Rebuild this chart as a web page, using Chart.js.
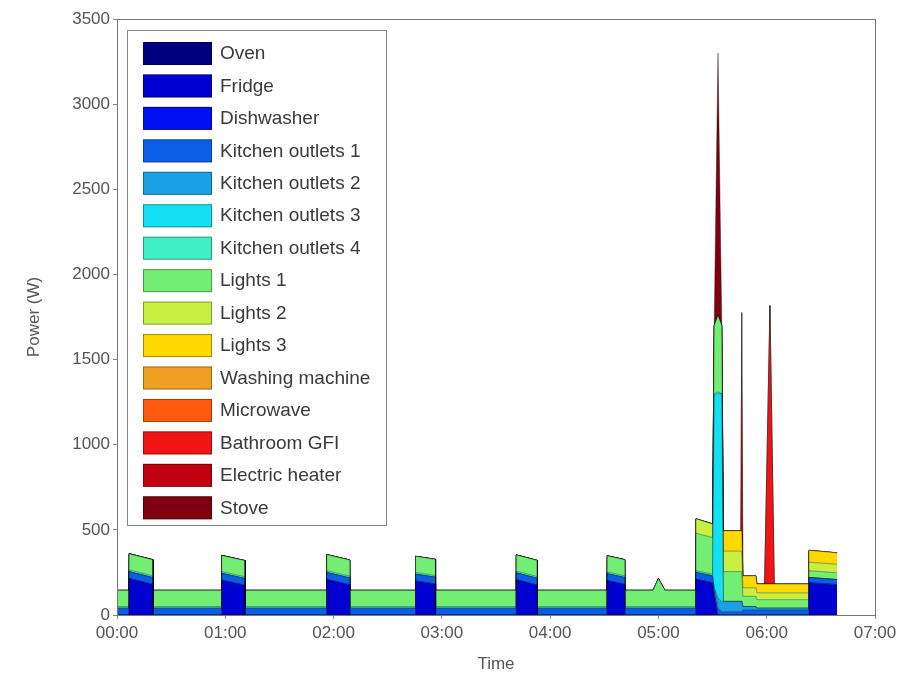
<!DOCTYPE html>
<html>
<head>
<meta charset="utf-8">
<title>Power (W)</title>
<script src="https://cdn.jsdelivr.net/npm/chart.js@4/dist/chart.umd.min.js"></script>
<style>
    body { margin: 0; background: #fff; }
    #wrap { width: 917px; height: 673px; }
</style>
</head>
<body>
<div id="wrap"><canvas id="powerChart" width="917" height="673"></canvas></div>
<script>
// time in hours since 00:00
const times = [0, 0.11, 0.112, 0.33, 0.332, 0.965, 0.967, 1.18, 1.182, 1.935, 1.937, 2.15, 2.152,
    2.755, 2.757, 2.94, 2.942, 3.685, 3.687, 3.88, 3.882, 4.525, 4.527, 4.69, 4.692,
    4.95, 5.0, 5.06, 5.345, 5.347, 5.5, 5.515, 5.55, 5.585, 5.6, 5.76, 5.77, 5.78, 5.9,
    5.91, 5.98, 6.03, 6.07, 6.385, 6.39, 6.65];

const labels = ['Oven', 'Fridge', 'Dishwasher', 'Kitchen outlets 1', 'Kitchen outlets 2',
    'Kitchen outlets 3', 'Kitchen outlets 4', 'Lights 1', 'Lights 2', 'Lights 3',
    'Washing machine', 'Microwave', 'Bathroom GFI', 'Electric heater', 'Stove'];

const colors = ['#00007f', '#0000d0', '#0010f4', '#0a5ee8', '#1aa0e4', '#14e0f4', '#40f0c4',
    '#72ee72', '#c8f040', '#ffd800', '#f0a020', '#ff5a10', '#f01414', '#c00010', '#800010'];

// power per appliance (W), one value per time point
const oven = [0, 0, 0, 0, 0, 0, 0, 0, 0, 0, 0, 0, 0, 0, 0, 0, 0, 0, 0, 0, 0, 0, 0, 0, 0,
    0, 0, 0, 0, 0, 0, 0, 0, 0, 0, 0, 0, 0, 0, 0, 0, 0, 0, 0, 0, 0];
const fridge = [0, 0, 215, 180, 0, 0, 205, 175, 0, 0, 210, 178, 0, 0, 200, 182, 0, 0, 208, 176, 0, 0, 203, 180, 0,
    0, 0, 0, 0, 210, 190, 120, 0, 0, 0, 0, 0, 0, 0, 0, 0, 0, 0, 0, 190, 178];
const dishwasher = [0, 0, 0, 0, 0, 0, 0, 0, 0, 0, 0, 0, 0, 0, 0, 0, 0, 0, 0, 0, 0, 0, 0, 0, 0,
    0, 0, 0, 0, 0, 0, 0, 0, 0, 0, 0, 0, 0, 0, 0, 0, 0, 0, 0, 0, 0];
const kitchen1 = [40, 40, 40, 40, 40, 40, 40, 40, 40, 40, 40, 40, 40, 40, 40, 40, 40, 40, 40, 40, 40, 40, 40, 40, 40,
    40, 40, 40, 40, 40, 40, 40, 40, 20, 20, 20, 20, 30, 30, 30, 30, 30, 30, 30, 30, 30];
const kitchen2 = [0, 0, 0, 0, 0, 0, 0, 0, 0, 0, 0, 0, 0, 0, 0, 0, 0, 0, 0, 0, 0, 0, 0, 0, 0,
    0, 0, 0, 0, 0, 0, 0, 60, 60, 60, 60, 60, 20, 20, 10, 10, 10, 10, 10, 0, 0];
const kitchen3 = [0, 0, 0, 0, 0, 0, 0, 0, 0, 0, 0, 0, 0, 0, 0, 0, 0, 0, 0, 0, 0, 0, 0, 0, 0,
    0, 0, 0, 0, 0, 0, 1130, 1200, 1220, 0, 0, 0, 0, 0, 0, 0, 0, 0, 0, 0, 0];
const kitchen4 = [10, 10, 10, 10, 10, 10, 10, 10, 10, 10, 10, 10, 10, 10, 10, 10, 10, 10, 10, 10, 10, 10, 10, 10, 10,
    10, 10, 10, 10, 10, 10, 10, 10, 0, 0, 0, 0, 0, 0, 0, 0, 0, 0, 0, 0, 0];
const lights1 = [95, 95, 95, 95, 95, 95, 95, 95, 95, 95, 95, 95, 95, 95, 95, 95, 95, 95, 95, 95, 95, 95, 95, 95, 95,
    95, 165, 95, 95, 220, 215, 400, 450, 400, 175, 175, 175, 60, 60, 50, 50, 50, 50, 50, 40, 40];
const lights2 = [0, 0, 0, 0, 0, 0, 0, 0, 0, 0, 0, 0, 0, 0, 0, 0, 0, 0, 0, 0, 0, 0, 0, 0, 0,
    0, 0, 0, 0, 85, 80, 0, 0, 0, 120, 120, 120, 50, 50, 40, 40, 40, 40, 40, 50, 50];
const lights3 = [0, 0, 0, 0, 0, 0, 0, 0, 0, 0, 0, 0, 0, 0, 0, 0, 0, 0, 0, 0, 0, 0, 0, 0, 0,
    0, 0, 0, 0, 0, 0, 0, 0, 0, 120, 120, 120, 70, 70, 52, 52, 52, 52, 52, 70, 67];
const washing = [0, 0, 0, 0, 0, 0, 0, 0, 0, 0, 0, 0, 0, 0, 0, 0, 0, 0, 0, 0, 0, 0, 0, 0, 0,
    0, 0, 0, 0, 0, 0, 0, 0, 0, 0, 0, 0, 0, 0, 0, 0, 0, 0, 0, 0, 0];
const microwave = [0, 0, 0, 0, 0, 0, 0, 0, 0, 0, 0, 0, 0, 0, 0, 0, 0, 0, 0, 0, 0, 0, 0, 0, 0,
    0, 0, 0, 0, 0, 0, 0, 0, 0, 0, 0, 0, 0, 0, 0, 0, 0, 0, 0, 0, 0];
const bathroom = [0, 0, 0, 0, 0, 0, 0, 0, 0, 0, 0, 0, 0, 0, 0, 0, 0, 0, 0, 0, 0, 0, 0, 0, 0,
    0, 0, 0, 0, 0, 0, 0, 0, 0, 0, 0, 0, 0, 0, 0, 0, 1636, 0, 0, 0, 0];
const heater = [0, 0, 0, 0, 0, 0, 0, 0, 0, 0, 0, 0, 0, 0, 0, 0, 0, 0, 0, 0, 0, 0, 0, 0, 0,
    0, 0, 0, 0, 0, 0, 0, 0, 0, 0, 0, 1281, 0, 0, 0, 0, 0, 0, 0, 0, 0];
const stove = [0, 0, 0, 0, 0, 0, 0, 0, 0, 0, 0, 0, 0, 0, 0, 0, 0, 0, 0, 0, 0, 0, 0, 0, 0,
    0, 0, 0, 0, 0, 0, 0, 1540, 0, 0, 0, 0, 0, 0, 0, 0, 0, 0, 0, 0, 0];

const series = [oven, fridge, dishwasher, kitchen1, kitchen2, kitchen3, kitchen4,
    lights1, lights2, lights3, washing, microwave, bathroom, heater, stove];

const hourTicks = [0, 1, 2, 3, 4, 5, 6, 7];
const powerTicks = [0, 500, 1000, 1500, 2000, 2500, 3000, 3500];

const FONT = '"Liberation Sans", Arial, sans-serif';

// frame around the plot area, like MATLAB's box on
const framePlugin = {
    id: 'frame',
    afterDatasetsDraw(chart) {
        const { ctx, chartArea: a } = chart;
        ctx.save();
        ctx.strokeStyle = '#777';
        ctx.lineWidth = 1;
        ctx.strokeRect(a.left + 0.5, a.top + 0.5, a.right - a.left, a.bottom - a.top);
        ctx.restore();
    }
};

// legend box drawn inside the axes (top left)
const legendPlugin = {
    id: 'insideLegend',
    afterDraw(chart) {
        const ctx = chart.ctx;
        const box = { x: 127, y: 30, w: 259, h: 495 };
        ctx.save();
        ctx.fillStyle = '#fff';
        ctx.fillRect(box.x, box.y, box.w, box.h);
        ctx.strokeStyle = '#888';
        ctx.lineWidth = 1;
        ctx.strokeRect(box.x + 0.5, box.y + 0.5, box.w, box.h);
        ctx.font = '19px ' + FONT;
        ctx.textBaseline = 'middle';
        chart.data.datasets.forEach((ds, i) => {
            const y = 42 + i * 32.45;
            ctx.fillStyle = ds.backgroundColor;
            ctx.fillRect(143, y, 69, 23);
            ctx.strokeStyle = 'rgba(0,0,0,0.35)';
            ctx.strokeRect(143.5, y + 0.5, 68, 22);
            ctx.fillStyle = '#3a3a3a';
            ctx.fillText(ds.label, 220, y + 12);
        });
        ctx.restore();
    }
};

const datasets = series.map((vals, i) => ({
    label: labels[i],
    data: times.map((t, j) => ({ x: t, y: vals[j] })),
    backgroundColor: colors[i],
    borderColor: 'rgba(0,0,0,0.45)',
    borderWidth: 0.8,
    pointRadius: 0,
    tension: 0,
    fill: i === 0 ? 'origin' : '-1'
}));

new Chart(document.getElementById('powerChart'), {
    type: 'line',
    data: { datasets },
    options: {
        responsive: false,
        animation: false,
        layout: { padding: { left: 0, right: 42, top: 19, bottom: 0 } },
        plugins: {
            legend: { display: false },
            tooltip: { enabled: false }
        },
        scales: {
            x: {
                type: 'linear',
                min: 0,
                max: 7,
                afterBuildTicks: scale => { scale.ticks = hourTicks.map(v => ({ value: v })); },
                afterFit: scale => { scale.height = 58; },
                ticks: {
                    color: '#555',
                    font: { family: FONT, size: 17 },
                    padding: 4,
                    maxRotation: 0,
                    callback: v => '0' + v + ':00'
                },
                grid: { drawOnChartArea: false, tickLength: 4, color: '#888' },
                border: { display: false },
                title: {
                    display: true,
                    text: 'Time',
                    color: '#555',
                    font: { family: FONT, size: 17, lineHeight: 1 },
                    padding: { top: 0, bottom: 0 }
                }
            },
            y: {
                stacked: true,
                min: 0,
                max: 3500,
                afterBuildTicks: scale => { scale.ticks = powerTicks.map(v => ({ value: v })); },
                afterFit: scale => { scale.width = 117; },
                ticks: {
                    color: '#555',
                    font: { family: FONT, size: 17 },
                    padding: 3,
                    callback: v => String(v)
                },
                grid: { drawOnChartArea: false, tickLength: 4, color: '#888' },
                border: { display: false },
                title: {
                    display: true,
                    text: 'Power (W)',
                    color: '#555',
                    font: { family: FONT, size: 17, lineHeight: 1 },
                    padding: { top: 26, bottom: 0 }
                }
            }
        }
    },
    plugins: [framePlugin, legendPlugin]
});
</script>
</body>
</html>
